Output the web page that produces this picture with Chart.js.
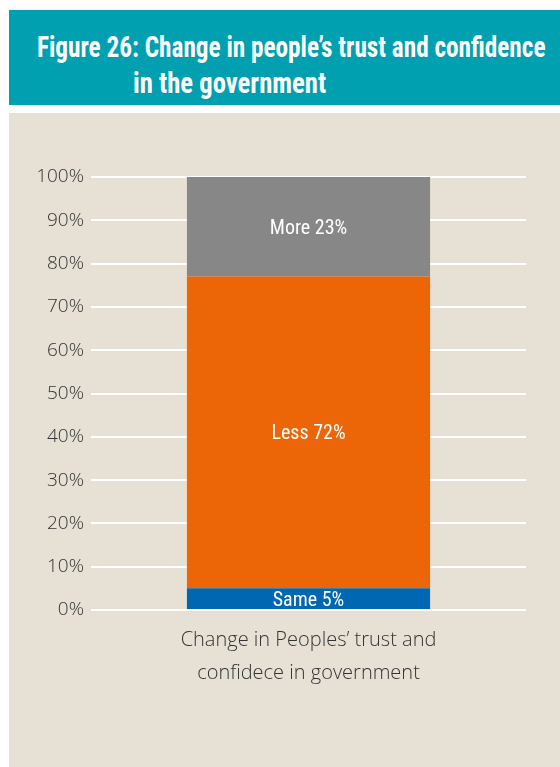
<!DOCTYPE html>
<html>
<head>
<meta charset="utf-8">
<script src="https://cdn.jsdelivr.net/npm/chart.js@4"></script>
<style>
  body { margin: 0; background: #ffffff; width: 560px; height: 767px; overflow: hidden; position: relative; }
  #header {
    position: absolute; left: 9px; top: 10px; width: 551px; height: 95px;
    background: #00a0b0; color: #ffffff;
    font-family: "Liberation Sans Narrow", "Roboto Condensed", "DejaVu Sans Condensed", sans-serif;
    font-weight: bold; font-size: 29px; line-height: 36px;
  }
  #header .l1 { position: absolute; left: 28px; top: 19px; white-space: nowrap; transform: scaleX(0.87); transform-origin: left center; }
  #header .l2 { position: absolute; left: 124px; top: 55px; white-space: nowrap; transform: scaleX(0.92); transform-origin: left center; }
  #panel { position: absolute; left: 9px; top: 113px; width: 551px; height: 654px; background: #e7e1d5; }
  #chartBox { position: absolute; left: 0; top: 0; width: 551px; height: 654px; }
</style>
</head>
<body>
<div id="header">
  <div class="l1">Figure 26: Change in people’s trust and confidence</div>
  <div class="l2">in the government</div>
</div>
<div id="panel">
  <div id="chartBox"><canvas id="stackChart"></canvas></div>
</div>
<script>
// chart data
const categories = [["Change in Peoples’ trust and", "confidece in government"]];
const seriesNames = ["Same", "Less", "More"];
const seriesValues = [[5], [72], [23]];
const seriesColors = ["#0068b3", "#ec6608", "#878787"];
const yTicks = [0, 10, 20, 30, 40, 50, 60, 70, 80, 90, 100];

// writes "Name xx%" in the middle of each segment
const segmentLabels = {
  id: "segmentLabels",
  afterDatasetsDraw(chart) {
    const ctx = chart.ctx;
    ctx.save();
    ctx.fillStyle = "#ffffff";
    ctx.font = "20px 'Liberation Sans Narrow', 'Roboto Condensed', sans-serif";
    ctx.textAlign = "center";
    ctx.textBaseline = "middle";
    chart.data.datasets.forEach((ds, i) => {
      const meta = chart.getDatasetMeta(i);
      meta.data.forEach((bar, j) => {
        const mid = (bar.y + bar.base) / 2;
        ctx.fillText(ds.label + " " + ds.data[j] + "%", bar.x, mid + 2);
      });
    });
    ctx.restore();
  },
};

const ctx = document.getElementById("stackChart").getContext("2d");
new Chart(ctx, {
  type: "bar",
  data: {
    labels: categories,
    datasets: seriesNames.map((name, i) => ({
      label: name,
      data: seriesValues[i],
      backgroundColor: seriesColors[i],
      borderWidth: 0,
      barPercentage: 0.559,
      categoryPercentage: 1,
    })),
  },
  options: {
    responsive: true,
    maintainAspectRatio: false,
    animation: false,
    layout: { padding: { top: 64, right: 34, left: 0, bottom: 0 } },
    plugins: {
      legend: { display: false },
      tooltip: { enabled: false },
    },
    scales: {
      x: {
        stacked: true,
        grid: { display: false },
        border: { display: false },
        ticks: {
          color: "#333333",
          font: { family: "'Open Sans', sans-serif", size: 20, weight: 300, lineHeight: 1.65 },
          padding: 6,
        },
        afterFit(axis) { axis.height = 157; },
      },
      y: {
        stacked: true,
        min: 0,
        max: 100,
        afterBuildTicks(axis) { axis.ticks = yTicks.map((v) => ({ value: v })); },
        grid: { color: "#ffffff", lineWidth: 2, drawTicks: false },
        border: { display: false },
        ticks: {
          color: "#333333",
          font: { family: "'Open Sans', sans-serif", size: 19, weight: 300 },
          padding: 7,
          callback: (v) => v + "%",
        },
        afterFit(axis) { axis.width = 82; },
      },
    },
  },
  plugins: [segmentLabels],
});
</script>
</body>
</html>
